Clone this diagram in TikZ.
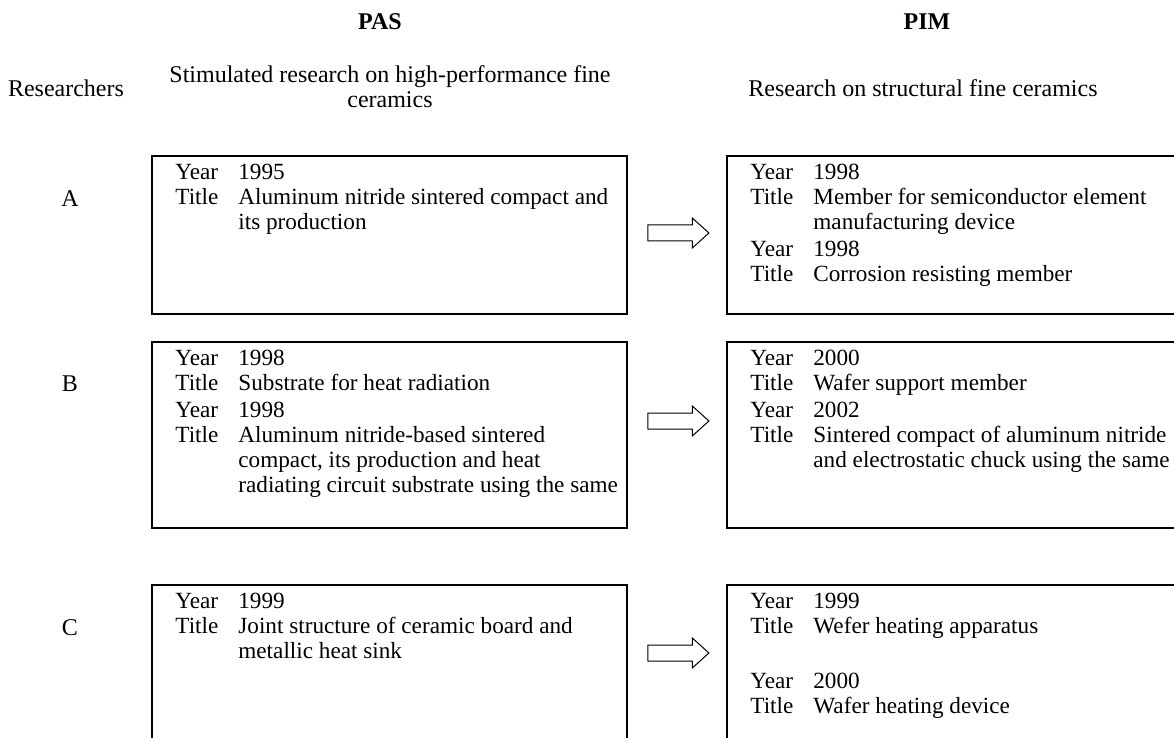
\documentclass[tikz,border=0pt]{standalone}
\usepackage{fontspec}
\setmainfont{Liberation Serif}
\usetikzlibrary{shapes.arrows}

\newcommand{\patentlist}[1]{\begin{tabular}{@{}p{31.5pt}@{}l@{}}#1\end{tabular}}

\tikzset{
  boxframe/.style={draw, line width=0.9pt, minimum width=237.5pt, inner sep=0pt, outer sep=0pt, anchor=north west},
  entrytext/.style={anchor=north west, inner sep=0pt, font=\fontsize{11.6}{12.5}\selectfont},
  plainlabel/.style={inner sep=0pt, font=\fontsize{12}{12.5}\selectfont, align=center},
  headlabel/.style={inner sep=0pt, font=\fontsize{12}{12.5}\selectfont\bfseries},
  flowarrow/.style={single arrow, draw, line width=0.5pt, inner xsep=0pt, inner ysep=3.75pt,
    minimum height=30.5pt, single arrow head extend=3.5pt, single arrow tip angle=84},
}

\begin{document}
\begin{tikzpicture}[x=0.5pt, y=-0.5pt]
  \useasboundingbox (0,0) rectangle (1174,738);
  \clip (0,0) rectangle (1174,738);

  % headings
  \node[headlabel] (pas) at (380,22) {PAS};
  \node[headlabel] (pim) at (927,22) {PIM};
  \node[plainlabel] (researchers) at (66,88) {Researchers};
  \node[plainlabel] (pasnote) at (390,87) {Stimulated research on high-performance fine\\ceramics};
  \node[plainlabel] (pimnote) at (923,88) {Research on structural fine ceramics};

  % researchers
  \node[plainlabel] (resA) at (70,199) {A};
  \node[plainlabel] (resB) at (70,384) {B};
  \node[plainlabel] (resC) at (70,628) {C};

  % frames
  \node[boxframe, minimum height=79pt] (pasA) at (152,156) {};
  \node[boxframe, minimum height=79pt] (pimA) at (727,156) {};
  \node[boxframe, minimum height=93pt] (pasB) at (152,342) {};
  \node[boxframe, minimum height=93pt] (pimB) at (727,342) {};
  \node[boxframe, minimum height=120pt] (pasC) at (152,585) {};
  \node[boxframe, minimum height=120pt] (pimC) at (727,585) {};

  % entries
  \node[entrytext] (pasAtext) at ([shift={(23,6)}]pasA.north west) {\patentlist{
    Year & 1995\\
    Title & Aluminum nitride sintered compact and\\
    & its production}};
  \node[entrytext] (pimAtext) at ([shift={(23,6)}]pimA.north west) {\patentlist{
    Year & 1998\\
    Title & Member for semiconductor element\\
    & manufacturing device\\[1pt]
    Year & 1998\\
    Title & Corrosion resisting member}};
  \node[entrytext] (pasBtext) at ([shift={(23,6)}]pasB.north west) {\patentlist{
    Year & 1998\\
    Title & Substrate for heat radiation\\[1pt]
    Year & 1998\\
    Title & Aluminum nitride-based sintered\\
    & compact, its production and heat\\
    & radiating circuit substrate using the same}};
  \node[entrytext] (pimBtext) at ([shift={(23,6)}]pimB.north west) {\patentlist{
    Year & 2000\\
    Title & Wafer support member\\[1pt]
    Year & 2002\\
    Title & Sintered compact of aluminum nitride\\
    & and electrostatic chuck using the same}};
  \node[entrytext] (pasCtext) at ([shift={(23,6)}]pasC.north west) {\patentlist{
    Year & 1999\\
    Title & Joint structure of ceramic board and\\
    & metallic heat sink}};
  \node[entrytext] (pimCtext) at ([shift={(23,6)}]pimC.north west) {\patentlist{
    Year & 1999\\
    Title & Wefer heating apparatus\\
    & \\[2.5pt]
    Year & 2000\\
    Title & Wafer heating device}};

  % arrows
  \node[flowarrow] (arrA) at (674,233) {};
  \node[flowarrow] (arrB) at (674,421) {};
  \node[flowarrow] (arrC) at (674,653) {};
\end{tikzpicture}
\end{document}
